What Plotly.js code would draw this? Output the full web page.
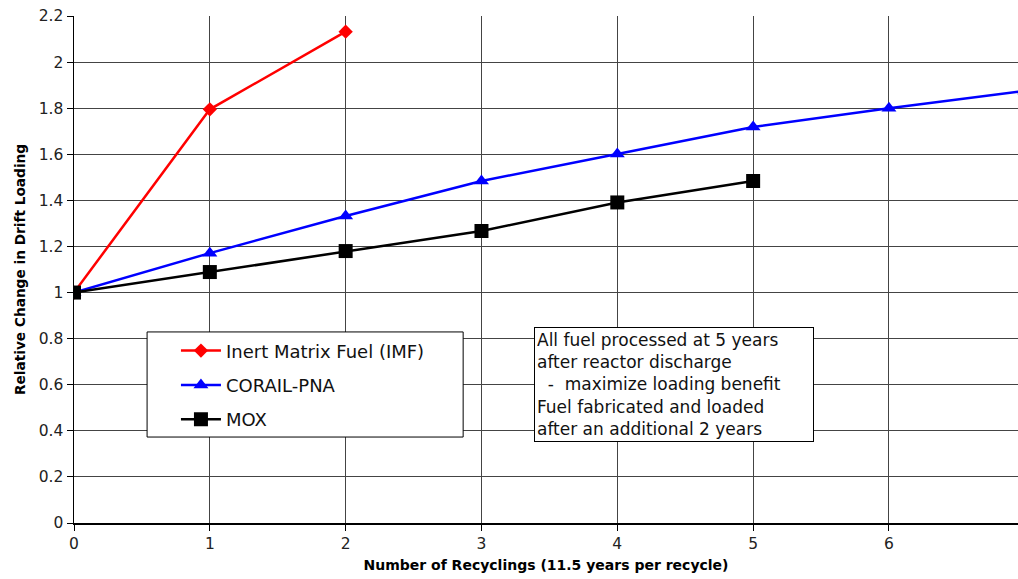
<!DOCTYPE html>
<html>
<head>
<meta charset="utf-8">
<script src="https://cdn.plot.ly/plotly-3.0.1.min.js"></script>
<style>html,body{margin:0;padding:0;background:#fff;}#chart{width:1018px;height:579px;}</style>
</head>
<body>
<div id="chart"></div>
<script>
var recyclings = [0, 1, 2, 3, 4, 5, 6, 7];
var imfX = [0, 1, 2];
var imfY = [1.0, 1.795, 2.132];
var corailX = [0, 1, 2, 3, 4, 5, 6, 7];
var corailY = [1.0, 1.171, 1.332, 1.484, 1.601, 1.718, 1.800, 1.875];
var moxX = [0, 1, 2, 3, 4, 5];
var moxY = [1.0, 1.089, 1.180, 1.267, 1.391, 1.484];
var yTicks = [0, 0.2, 0.4, 0.6, 0.8, 1, 1.2, 1.4, 1.6, 1.8, 2, 2.2];
var yTickText = ['0', '0.2', '0.4', '0.6', '0.8', '1', '1.2', '1.4', '1.6', '1.8', '2', '2.2'];
var seriesNames = ['Inert Matrix Fuel (IMF)', 'CORAIL-PNA', 'MOX'];
var noteText = 'All fuel processed at 5 years<br>after reactor discharge<br>  -  maximize loading benefit<br>Fuel fabricated and loaded<br>after an additional 2 years';

var font = 'DejaVu Sans, Liberation Sans, Arial, sans-serif';
var traces = [
  {x: imfX, y: imfY, name: seriesNames[0], mode: 'lines+markers', legendgroup: 'a',
   line: {color: '#ff0000', width: 2.5}, marker: {symbol: 'diamond', size: 11, color: '#ff0000'}},
  {x: corailX, y: corailY, name: seriesNames[1], mode: 'lines+markers', legendgroup: 'b',
   line: {color: '#0000ff', width: 2.5}, marker: {symbol: 'triangle-up', size: 13, color: '#0000ff'}},
  {x: moxX, y: moxY, name: seriesNames[2], mode: 'lines+markers', legendgroup: 'c',
   line: {color: '#000000', width: 2.5}, marker: {symbol: 'square', size: 14, color: '#000000'}}
];
var layout = {
  width: 1018, height: 579,
  margin: {l: 74, r: 0, t: 16, b: 56},
  paper_bgcolor: '#fff', plot_bgcolor: '#fff',
  font: {family: font, size: 15, color: '#222'},
  showlegend: true,
  legend: {x: 0.108, y: 0.376, xanchor: 'left', yanchor: 'top', bgcolor: 'rgba(0,0,0,0)',
           borderwidth: 0, font: {family: font, size: 18, color: '#111'},
           traceorder: 'grouped', tracegroupgap: 8, itemwidth: 40},
  xaxis: {range: [0, 6.95], tickvals: recyclings, ticktext: recyclings.map(String),
          showgrid: true, gridcolor: '#444', gridwidth: 1, zeroline: false,
          showline: true, linecolor: '#000', linewidth: 1.5,
          ticks: 'outside', ticklen: 6, tickcolor: '#000', tickfont: {size: 15.5},
          title: {text: '<b>Number of Recyclings (11.5 years per recycle)</b>', font: {size: 14, color: '#000'}, standoff: 8}},
  yaxis: {range: [0, 2.2], tickvals: yTicks, ticktext: yTickText,
          showgrid: true, gridcolor: '#444', gridwidth: 1, zeroline: false,
          showline: true, linecolor: '#000', linewidth: 1.5,
          ticks: 'outside', ticklen: 6, tickcolor: '#000', tickfont: {size: 15.5},
          title: {text: '<b>Relative Change in Drift Loading</b>', font: {size: 13.7, color: '#000'}, standoff: 10}},
  shapes: [
    {type: 'rect', xref: 'x', yref: 'y', x0: 0.538, x1: 2.865, y0: 0.373, y1: 0.829,
     fillcolor: '#fff', line: {color: '#000', width: 1}, layer: 'above'}
  ],
  annotations: [
    {xref: 'x', yref: 'y', x: 4.418, y: 0.601, text: noteText, showarrow: false,
     align: 'left', width: 274, height: 109, borderpad: 2, bordercolor: '#000', borderwidth: 1,
     bgcolor: '#fff', font: {family: font, size: 17, color: '#111'}}
  ]
};
Plotly.newPlot('chart', traces, layout, {displayModeBar: false, staticPlot: true});
</script>
</body>
</html>
